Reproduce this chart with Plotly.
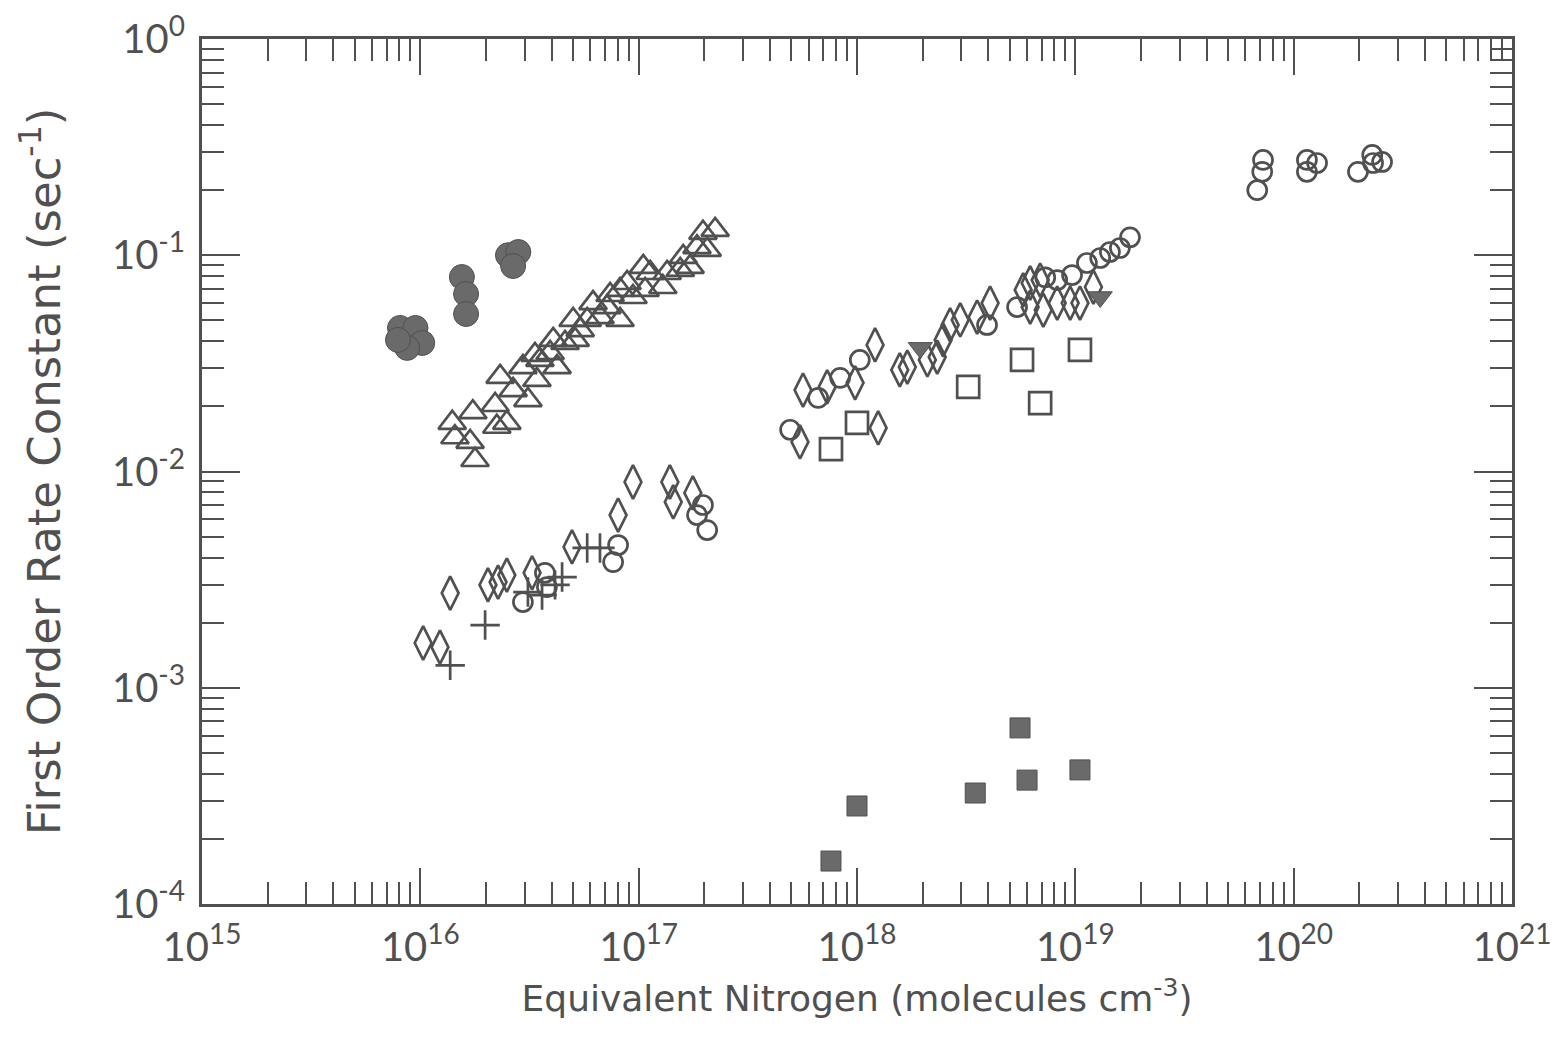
import plotly.graph_objects as go

# ---------------- data ----------------
filled_circle_x = [8.07e15, 9.5e15, 1.02e16, 8.7e15, 7.9e15, 1.55e16, 1.62e16, 1.62e16, 2.52e16, 2.81e16, 2.66e16]
filled_circle_y = [0.0461, 0.0461, 0.0393, 0.0373, 0.0406, 0.0793, 0.0662, 0.0535, 0.100, 0.1035, 0.0892]

triangle_x = [1.78e16, 1.40e16, 1.44e16, 1.69e16, 1.74e16, 2.20e16, 2.24e16, 2.49e16, 2.32e16, 2.66e16,
              3.11e16, 2.95e16, 3.42e16, 3.53e16, 3.93e16, 4.23e16, 4.06e16, 4.60e16, 5.01e16, 5.40e16,
              5.81e16, 6.18e16, 6.65e16, 7.16e16, 8.22e16, 8.22e16, 8.85e16, 9.42e16, 1.05e17, 1.13e17,
              1.29e17, 1.35e17, 1.55e17, 1.60e17, 1.72e17, 1.85e17, 2.06e17, 1.97e17, 2.24e17,
              3.35e16, 5.12e16, 1.07e17, 7.40e16]
triangle_y = [0.0113, 0.0168, 0.0144, 0.0137, 0.0188, 0.0203, 0.0161, 0.0168, 0.0274, 0.0238,
              0.0214, 0.0304, 0.0265, 0.0328, 0.0353, 0.0304, 0.0406, 0.0393, 0.0502, 0.0451,
              0.0502, 0.0601, 0.0518, 0.0576, 0.0502, 0.0691, 0.0744, 0.0641, 0.0883, 0.0828,
              0.0713, 0.0828, 0.0855, 0.0982, 0.0883, 0.109, 0.106, 0.127, 0.131,
              0.0346, 0.0406, 0.0691, 0.0655]

diamond_x = [1.03e16, 1.23e16, 1.37e16, 2.04e16, 2.27e16, 2.49e16, 3.25e16, 4.95e16, 8.05e16, 9.42e16,
             1.39e17, 1.44e17, 1.77e17,
             5.66e17, 7.30e17, 9.80e17, 1.21e18, 5.48e17, 1.25e18, 1.57e18, 1.70e18, 2.10e18, 2.33e18,
             2.48e18, 2.67e18, 2.97e18, 3.55e18, 4.07e18, 5.77e18, 6.21e18, 7.13e18, 8.26e18, 9.47e18,
             1.05e19, 6.21e18, 6.90e18, 1.21e19]
diamond_y = [0.00161, 0.00154, 0.00274, 0.00299, 0.00308, 0.00332, 0.00340, 0.00448, 0.00629, 0.00894,
             0.00894, 0.00723, 0.00796,
             0.0238, 0.0246, 0.0257, 0.0385, 0.0137, 0.0159, 0.0295, 0.0304, 0.0328, 0.0338,
             0.0406, 0.0476, 0.0502, 0.0518, 0.0601, 0.0691, 0.0576, 0.0558, 0.0601, 0.0601,
             0.0601, 0.0744, 0.0768, 0.0713]

cross_x = [1.98e16, 1.37e16, 3.11e16, 3.61e16, 4.46e16, 5.81e16, 6.65e16, 4.14e16]
cross_y = [0.00195, 0.00127, 0.00277, 0.00268, 0.00325, 0.00443, 0.00443, 0.00299]

circle_x = [2.95e16, 3.72e16, 3.80e16, 8.05e16, 7.64e16, 1.97e17, 1.85e17, 2.06e17,
            4.94e17, 6.64e17, 8.37e17, 1.03e18, 3.94e18, 8.26e18, 5.41e18, 1.13e19, 1.30e19,
            1.44e19, 1.60e19, 1.78e19, 7.28e18, 9.66e18,
            7.24e19, 7.18e19, 6.81e19, 1.15e20, 1.15e20, 1.28e20, 1.97e20, 2.29e20, 2.31e20, 2.54e20]
circle_y = [0.00249, 0.00340, 0.00292, 0.00457, 0.00381, 0.00700, 0.00629, 0.00536,
            0.0156, 0.0219, 0.0271, 0.0328, 0.0476, 0.0768, 0.0576, 0.0921, 0.0971,
            0.1035, 0.108, 0.121, 0.0790, 0.081,
            0.276, 0.243, 0.200, 0.276, 0.243, 0.267, 0.243, 0.291, 0.267, 0.270]

filled_tri_x = [1.95e18, 1.30e19]
filled_tri_y = [0.0373, 0.0641]

square_x = [7.60e17, 1.00e18, 3.23e18, 5.70e18, 6.90e18, 1.05e19]
square_y = [0.0127, 0.0168, 0.0246, 0.0328, 0.0207, 0.0365]

filled_square_x = [7.60e17, 1.00e18, 3.48e18, 5.58e18, 6.01e18, 1.05e19]
filled_square_y = [1.58e-4, 2.84e-4, 3.26e-4, 6.52e-4, 3.74e-4, 4.17e-4]

x_tick_vals = [1e15, 1e16, 1e17, 1e18, 1e19, 1e20, 1e21]
x_tick_text = ["10<sup>15</sup>", "10<sup>16</sup>", "10<sup>17</sup>", "10<sup>18</sup>",
               "10<sup>19</sup>", "10<sup>20</sup>", "10<sup>21</sup>"]
y_tick_vals = [1e-4, 1e-3, 1e-2, 1e-1, 1e0]
y_tick_text = ["10<sup>-4</sup>", "10<sup>-3</sup>", "10<sup>-2</sup>", "10<sup>-1</sup>", "10<sup>0</sup>"]

# ---------------- styling ----------------
INK = "#505050"
FILL = "#6a6a6a"
FONT = "Lato"
TITLE_FONT = "DejaVu Sans"

fig = go.Figure()

def add(x, y, symbol, size, filled=False, lw=2.7):
    fig.add_trace(go.Scatter(
        x=x, y=y, mode="markers", showlegend=False, hoverinfo="skip",
        marker=dict(symbol=symbol, size=size,
                    color=FILL if filled else INK,
                    line=dict(color=INK, width=lw if not filled else 1)),
    ))

add(triangle_x, triangle_y, "triangle-up-open", 24)
add(diamond_x, diamond_y, "diamond-tall-open", 24)
add(circle_x, circle_y, "circle-open", 19)
add(cross_x, cross_y, "cross-thin-open", 21)
add(square_x, square_y, "square-open", 22)
add(filled_circle_x, filled_circle_y, "circle", 25, filled=True)
add(filled_tri_x, filled_tri_y, "triangle-down", 21, filled=True)
add(filled_square_x, filled_square_y, "square", 20, filled=True)

axis_common = dict(
    type="log", showgrid=False, zeroline=False,
    showline=True, linecolor=INK, linewidth=3, mirror="allticks",
    ticks="inside", tickcolor=INK, tickwidth=2,
    tickfont=dict(family=FONT, size=40, color=INK),
    minor=dict(ticks="inside", ticklen=22, tickwidth=2, tickcolor=INK, dtick="D1", showgrid=False),
)

fig.update_xaxes(**axis_common, range=[15, 21], tickmode="array",
                 tickvals=x_tick_vals, ticktext=x_tick_text, ticklen=36,
                 ticklabelstandoff=6,
                 title=dict(text="Equivalent Nitrogen (molecules cm<sup>-3</sup>)",
                            font=dict(family=TITLE_FONT, size=36, color=INK), standoff=17))
fig.update_yaxes(**axis_common, range=[-4, 0], tickmode="array",
                 tickvals=y_tick_vals, ticktext=y_tick_text, ticklen=38,
                 ticklabelstandoff=6,
                 title=dict(text="First Order Rate Constant (sec<sup>-1</sup>)",
                            font=dict(family=TITLE_FONT, size=45, color=INK), standoff=38))

fig.update_layout(
    width=1555, height=1044,
    margin=dict(l=202, r=43, t=39, b=140, autoexpand=False),
    paper_bgcolor="white", plot_bgcolor="white",
    font=dict(family=FONT, color=INK),
)

fig.write_html("out.html")
